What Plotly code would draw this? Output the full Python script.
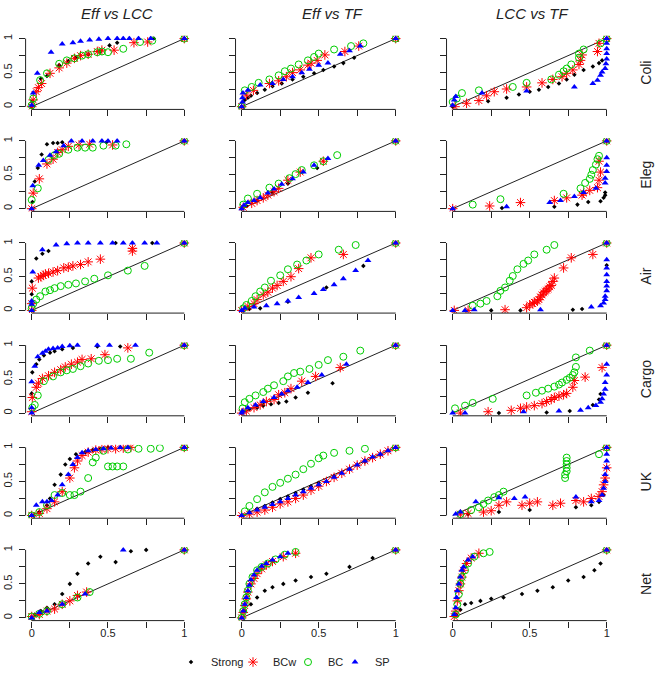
import plotly.graph_objects as go

COLS = ["Eff vs LCC", "Eff vs TF", "LCC vs TF"]
ROWS = ["Coli", "Eleg", "Air", "Cargo", "UK", "Net"]
SERIES = ["Strong", "BCw", "BC", "SP"]
DIAG = [0, 1]
TICKS = [0, 0.25, 0.5, 0.75, 1]
TICK_TEXT = ["0", "", "0.5", "", "1"]

# ---------------- data (x, y) per panel and series ----------------
coli_eff_lcc = {
    "Strong": ([0, 0.005, 0.06, 0.1, 0.18, 0.24, 0.29, 0.37, 0.45, 0.51, 0.56, 0.8, 1],
               [0, 0.08, 0.41, 0.45, 0.61, 0.67, 0.72, 0.77, 0.81, 0.9, 0.94, 1, 1]),
    "BCw": ([0, 0.01, 0.03, 0.044, 0.065, 0.12, 0.18, 0.23, 0.28, 0.32, 0.37, 0.43, 0.46, 0.54, 0.67, 0.76, 1],
            [0, 0.1, 0.22, 0.28, 0.34, 0.49, 0.57, 0.64, 0.71, 0.75, 0.77, 0.81, 0.83, 0.83, 0.94, 0.95, 1]),
    "BC": ([0, 0.01, 0.055, 0.1, 0.18, 0.23, 0.28, 0.33, 0.37, 0.43, 0.46, 0.5, 0.6, 0.71, 0.79, 1],
           [0.02, 0.12, 0.39, 0.49, 0.63, 0.68, 0.71, 0.75, 0.77, 0.8, 0.81, 0.8, 0.85, 0.95, 0.97, 1]),
    "SP": ([0, 0.01, 0.037, 0.127, 0.2, 0.27, 0.32, 0.38, 0.44, 0.5, 0.56, 0.6, 0.64, 0.7, 0.78, 1],
           [0.02, 0.2, 0.49, 0.8, 0.92, 0.94, 0.96, 0.98, 0.99, 1, 1, 1, 1, 1, 1, 1]),
}
coli_eff_tf = {
    "Strong": ([0, .02, .04, .06, .1, .15, .2, .26, .33, .4, .47, .53, .6, .66, .73, 1],
               [0, .1, .13, .16, .2, .25, .3, .34, .4, .44, .49, .54, .59, .64, .72, 1]),
    "BCw": ([0, .03, .076, .18, .24, .29, .33, .38, .43, .45, .49, .54, .67, .76, 1],
            [0, .17, .24, .34, .38, .44, .5, .54, .61, .64, .68, .76, .81, .89, 1]),
    "BC": ([0, .02, .065, .11, .18, .24, .28, .32, .37, .43, .47, .5, .6, .71, .79, 1],
           [0, .24, .29, .35, .4, .46, .52, .56, .62, .68, .73, .78, .84, .89, .93, 1]),
    "SP": ([0, .005, .005, .008, .04, .12, .2, .27, .33, .39, .44, .5, .56, .64, .7, .77, 1],
           [0, .07, .13, .2, .24, .32, .34, .4, .44, .5, .55, .61, .64, .77, .82, .89, 1]),
}
coli_lcc_tf = {
    "Strong": ([0, .23, .35, .43, .5, .56, .62, .69, .74, .79, .85, .91, .95, .97, 1],
               [0, .08, .13, .18, .22, .25, .29, .34, .4, .47, .54, .59, .64, .68, 1]),
    "BCw": ([.015, .09, .17, .22, .27, .35, .48, .58, .65, .71, .74, .78, .82, .83, .84, .94, .95, 1],
            [0, .05, .09, .16, .22, .26, .29, .35, .4, .44, .49, .54, .62, .68, .76, .81, .93, 1]),
    "BC": ([0, .026, .06, .17, .39, .48, .64, .69, .72, .74, .77, .82, .82, .85, .96, 1],
           [.07, .12, .2, .24, .29, .35, .4, .47, .52, .56, .62, .72, .78, .84, .93, 1]),
    "SP": ([0, .01, .02, .19, .48, .79, .91, .94, .96, .97, .99, .995, 1, 1, 1, 1, 1],
           [.02, .1, .15, .2, .23, .29, .34, .39, .46, .51, .56, .63, .7, .78, .85, .93, 1]),
}
eleg_eff_lcc = {
    "Strong": ([0, .005, .02, .04, .065, .1, .14, .17, .2, .49, 1],
               [0, .1, .4, .6, .8, .95, .97, .97, .98, .98, 1]),
    "BCw": ([0, .01, .05, .1, .14, .17, .2, .24, .31, .38, .53, 1],
            [0, .23, .44, .66, .73, .83, .87, .92, .94, .95, .94, 1]),
    "BC": ([0, .04, .11, .15, .18, .24, .3, .35, .4, .47, .55, .62, 1],
           [.13, .3, .72, .79, .81, .87, .9, .9, .9, .93, .93, .95, 1]),
    "SP": ([0, .007, .046, .076, .12, .16, .21, .26, .33, .4, .46, .5, .56, 1],
           [0, .34, .64, .71, .79, .84, .93, 1, 1, 1, 1, 1, 1, 1]),
}
eleg_eff_tf = {
    "Strong": ([0, .03, .1, .2, .3, .49, 1],
               [0, .04, .12, .24, .37, .6, 1]),
    "BCw": ([.01, .065, .1, .14, .17, .21, .24, .3, .38, .53, 1],
            [.02, .08, .12, .16, .2, .25, .3, .42, .54, .7, 1]),
    "BC": ([.01, .04, .1, .18, .24, .31, .35, .39, .47, .53, .62, 1],
           [.06, .15, .22, .31, .37, .45, .51, .57, .64, .7, .79, 1]),
    "SP": ([0, .015, .04, .08, .12, .17, .21, .26, .33, .4, .47, .56, 1],
           [0, .05, .09, .12, .16, .23, .29, .36, .44, .54, .64, .74, 1]),
}
eleg_lcc_tf = {
    "Strong": ([.32, .66, .81, .88, .96, .98, .99, .99, 1],
               [.01, .03, .06, .1, .11, .16, .2, .24, 1]),
    "BCw": ([0, .24, .44, .66, .74, .84, .85, .89, .94, .95, .96, .95, 1],
            [0, .04, .09, .12, .16, .2, .23, .27, .31, .42, .54, .7, 1]),
    "BC": ([.13, .31, .72, .83, .86, .89, .9, .91, .93, .94, .95, 1],
           [.06, .14, .22, .3, .38, .44, .5, .57, .65, .73, .78, 1]),
    "SP": ([0, .35, .63, .7, .79, .85, .93, .99, .99, 1, 1, 1, 1],
           [0, .03, .09, .12, .18, .24, .3, .38, .45, .55, .64, .75, 1]),
}
air_eff_lcc = {
    "Strong": ([0, 0, .03, .07, .11, .55, .79, 1],
               [.24, .43, .77, .84, .88, 1, 1, 1]),
    "BCw": ([0, 0, .004, .044, .06, .076, .09, .11, .14, .17, .21, .24, .27, .32, .37, .45, .66, .66, 1],
            [0, .1, .33, .48, .5, .52, .54, .55, .57, .59, .63, .64, .66, .68, .72, .76, .88, .92, 1]),
    "BC": ([0, .01, .03, .055, .09, .12, .15, .19, .24, .29, .35, .41, .5, .63, .74, 1],
           [.03, .1, .16, .21, .28, .3, .33, .36, .38, .4, .43, .47, .52, .59, .66, 1]),
    "SP": ([0, 0, 0, .007, .07, .16, .23, .3, .37, .45, .53, .6, .66, .74, .82, 1],
           [0, .09, .14, .57, .9, .97, .99, 1, 1, 1, 1, 1, 1, 1, 1, 1]),
}
air_eff_tf = {
    "Strong": ([0, .05, .12, .3, .55, .79, 1],
               [0, .02, .03, .13, .34, .66, 1]),
    "BCw": ([0, .04, .08, .1, .14, .17, .2, .23, .27, .32, .37, .45, .66, 1],
            [0, .06, .1, .16, .23, .27, .33, .37, .43, .5, .62, .78, .83, 1]),
    "BC": ([.01, .03, .065, .09, .12, .15, .19, .25, .3, .36, .42, .5, .63, .74, 1],
           [.03, .08, .14, .21, .28, .34, .44, .52, .61, .68, .74, .83, .9, .97, 1]),
    "SP": ([0, .02, .08, .16, .23, .3, .37, .47, .53, .6, .66, .74, .82, 1],
           [0, .03, .05, .07, .1, .14, .19, .25, .31, .38, .47, .59, .74, 1]),
}
air_lcc_tf = {
    "Strong": ([.25, .44, .78, .84, 1, 1],
               [0, 0, .01, .02, .67, 1]),
    "BCw": ([.01, .1, .34, .48, .5, .52, .53, .55, .56, .57, .58, .59, .6, .61, .62, .63, .64, .65, .66, .72, .77, .91, 1],
            [0, 0, .01, .04, .08, .1, .12, .14, .16, .2, .23, .26, .28, .3, .32, .35, .37, .43, .48, .63, .78, .83, 1]),
    "BC": ([.13, .18, .22, .29, .31, .34, .37, .39, .42, .46, .49, .53, .61, .66, 1],
           [.07, .1, .14, .21, .29, .34, .44, .51, .61, .69, .74, .83, .9, .97, 1]),
    "SP": ([0, .08, .14, .57, .9, .96, .98, .99, .99, 1, 1, 1, 1, 1, 1, 1],
           [0, 0, .01, .01, .05, .07, .11, .16, .21, .29, .36, .43, .53, .63, .75, 1]),
}
cargo_eff_lcc = {
    "Strong": ([0, .004, .03, .05, .08, .12, .15, .2, .27, .43, .58, 1],
               [.29, .6, .72, .79, .85, .89, .91, .94, .96, .98, .98, 1]),
    "BCw": ([0, .004, .03, .044, .07, .11, .15, .19, .22, .26, .3, .33, .39, .48, .63, 1],
            [.02, .23, .38, .44, .51, .55, .6, .64, .68, .72, .75, .79, .8, .86, .96, 1]),
    "BC": ([.004, .02, .04, .08, .14, .19, .23, .27, .32, .37, .44, .5, .56, .65, .77, 1],
           [.08, .12, .26, .47, .54, .6, .63, .65, .69, .73, .77, .78, .8, .8, .89, 1]),
    "SP": ([0, 0, 0, .02, .04, .07, .09, .11, .14, .17, .2, .25, .3, .43, .51, .68, 1],
           [0, .08, .46, .69, .83, .88, .91, .94, .95, .96, .98, .99, 1, 1, 1, 1, 1]),
}
cargo_eff_tf = {
    "Strong": ([0, .05, .1, .14, .19, .24, .29, .35, .43, .59, 1],
               [0, .06, .08, .11, .13, .15, .17, .23, .3, .44, 1]),
    "BCw": ([0, .03, .08, .12, .16, .21, .24, .28, .32, .39, .48, .64, 1],
            [0, .03, .08, .12, .17, .2, .27, .3, .36, .47, .54, .67, 1]),
    "BC": ([.006, .02, .05, .09, .14, .17, .21, .27, .3, .34, .38, .44, .5, .56, .66, .77, 1],
           [.07, .16, .21, .26, .31, .36, .41, .47, .54, .59, .61, .65, .71, .78, .83, .92, 1]),
    "SP": ([0, .006, .04, .09, .14, .21, .26, .3, .36, .43, .52, .68, 1],
           [0, .03, .08, .12, .17, .23, .28, .33, .38, .45, .56, .72, 1]),
}
cargo_lcc_tf = {
    "Strong": ([.3, .61, .76, .91, .95, .96, 1],
               [0, .01, .03, .12, .2, .28, 1]),
    "BCw": ([.05, .23, .38, .44, .48, .53, .58, .61, .64, .66, .69, .72, .74, .78, .79, .86, .97, 1],
            [0, .02, .04, .07, .09, .11, .14, .17, .2, .23, .25, .27, .29, .38, .48, .53, .67, 1]),
    "BC": ([.015, .08, .13, .26, .48, .54, .58, .62, .66, .69, .71, .74, .76, .78, .79, .8, .8, .89, 1],
           [.07, .11, .15, .21, .26, .3, .33, .36, .39, .42, .45, .49, .52, .56, .6, .68, .82, .92, 1]),
    "SP": ([0, .08, .46, .69, .83, .88, .93, .96, .97, .98, .99, .99, 1, 1, 1],
           [0, 0, .02, .03, .04, .08, .11, .16, .21, .28, .35, .45, .56, .72, 1]),
}
uk_eff_lcc = {
    "Strong": ([0, .05, .1, .12, .15, .19, .22, .25, .29, .35, .4, .45, .5, 1],
               [0, .05, .15, .25, .45, .6, .75, .83, .9, .93, .96, .98, 1, 1]),
    "BCw": ([0, .05, .1, .15, .2, .25, .28, .3, .33, .37, .42, .46, .5, .55, .6, .65, 1],
            [0, .03, .1, .2, .35, .55, .7, .8, .88, .93, .96, .97, .98, .98, .99, 1, 1]),
    "BC": ([0, .05, .1, .15, .2, .25, .28, .32, .37, .4, .42, .47, .5, .53, .56, .6, .63, .7, .78, .84, 1],
           [0, .05, .15, .3, .33, .3, .3, .35, .55, .78, .85, .95, .72, .72, .72, .72, .97, .98, .98, .99, 1]),
    "SP": ([0, .03, .07, .1, .13, .17, .2, .24, .27, .3, .33, .37, .42, .47, .52, .58, .63, 1],
           [0, .15, .2, .2, .22, .3, .45, .6, .75, .85, .92, .95, .97, .98, .99, 1, 1, 1]),
}
uk_eff_tf = {
    "Strong": ([0, .05, .1, .15, .2, .25, .3, .35, .4, .45, .5, .6, .7, .8, .9, 1],
               [0, .05, .1, .14, .19, .24, .28, .33, .38, .43, .48, .58, .68, .79, .89, 1]),
    "BCw": ([0, .05, .1, .15, .2, .25, .3, .35, .4, .45, .5, .55, .6, .65, .7, .75, .8, .85, .9, .95, 1],
            [0, .02, .05, .08, .12, .17, .2, .25, .3, .37, .43, .5, .56, .62, .68, .74, .8, .85, .9, .95, 1]),
    "BC": ([.02, .05, .1, .15, .2, .25, .3, .35, .4, .45, .5, .53, .6, .7, .8, 1],
           [.06, .14, .24, .34, .42, .48, .54, .6, .68, .76, .84, .88, .92, .95, .98, 1]),
    "SP": ([0, .05, .1, .15, .2, .25, .3, .35, .4, .45, .5, .55, .6, .65, .7, .75, .8, .85, .9, .95, 1],
           [0, .04, .08, .12, .16, .2, .25, .3, .35, .4, .45, .5, .56, .62, .68, .74, .8, .86, .9, .95, 1]),
}
uk_lcc_tf = {
    "Strong": ([.1, .3, .5, .8, .9, .95, .98, .99, 1],
               [.02, .05, .08, .12, .15, .2, .3, .5, 1]),
    "BCw": ([.05, .1, .2, .25, .3, .35, .45, .5, .55, .65, .7, .8, .85, .9, .95, .97, .98, .99, 1, 1],
            [.02, .03, .05, .07, .15, .2, .15, .18, .2, .15, .18, .22, .2, .25, .28, .35, .45, .55, .7, 1]),
    "BC": ([.05, .12, .17, .2, .23, .27, .3, .33, .73, .73, .74, .74, .74, .74, .74, .95, 1],
           [.02, .08, .12, .17, .22, .27, .3, .35, .55, .6, .65, .7, .75, .8, .85, .9, 1]),
    "SP": ([.02, .05, .15, .3, .4, .47, .8, .9, .95, .97, .98, .99, .99, 1, 1, 1, 1],
           [.02, .05, .2, .26, .25, .27, .27, .2, .22, .3, .4, .5, .6, .7, .8, .9, 1]),
}
net_eff_lcc = {
    "Strong": ([.02, .06, .1, .15, .2, .25, .3, .37, .45, .55, .65, .75, 1],
               [.05, .1, .15, .2, .35, .5, .65, .8, .9, .82, .98, 1, 1]),
    "BCw": ([0, .05, .1, .15, .2, .25, .3, .36, 1],
            [.02, .05, .1, .13, .2, .25, .33, .38, 1]),
    "BC": ([0, .05, .1, .2, .3, .38, 1],
           [.02, .06, .1, .2, .3, .38, 1]),
    "SP": ([0, .05, .1, .2, .35, .6, 1],
           [0, .08, .1, .2, .35, 1, 1]),
}
net_eff_tf = {
    "Strong": ([.02, .06, .1, .15, .2, .27, .35, .45, .55, .7, .85, 1],
               [.1, .2, .3, .4, .45, .5, .55, .6, .65, .75, .88, 1]),
    "BCw": ([0, .01, .02, .03, .04, .06, .08, .1, .13, .16, .2, .27, .35, 1],
            [0, .08, .18, .28, .38, .5, .58, .65, .72, .78, .83, .9, .95, 1]),
    "BC": ([0, .01, .02, .03, .04, .05, .07, .1, .13, .17, .22, .28, .35, 1],
           [0, .1, .2, .3, .4, .5, .6, .7, .75, .8, .86, .93, .97, 1]),
    "SP": ([0, .01, .02, .03, .04, .05, .06, .08, .1, .13, .16, .2, .25, .3, 1],
           [0, .1, .2, .3, .4, .48, .56, .63, .7, .76, .8, .85, .9, .95, 1]),
}
net_lcc_tf = {
    "Strong": ([.02, .05, .08, .12, .18, .25, .33, .45, .55, .65, .75, .85, .92, .96, 1],
               [.05, .12, .2, .22, .25, .28, .3, .35, .4, .45, .55, .6, .7, .8, 1]),
    "BCw": ([.01, .02, .03, .04, .05, .06, .07, .09, .12, .17, 1],
            [.02, .1, .25, .4, .5, .6, .7, .8, .88, .95, 1]),
    "BC": ([.02, .03, .04, .05, .06, .08, .1, .14, .2, .24, 1],
           [.05, .2, .35, .5, .6, .7, .8, .9, .95, .97, 1]),
    "SP": ([.01, .02, .025, .03, .04, .05, .06, .07, .1, .13, 1],
           [.05, .15, .3, .4, .5, .6, .7, .75, .85, .9, 1]),
}

PANELS = [
    [coli_eff_lcc, coli_eff_tf, coli_lcc_tf],
    [eleg_eff_lcc, eleg_eff_tf, eleg_lcc_tf],
    [air_eff_lcc, air_eff_tf, air_lcc_tf],
    [cargo_eff_lcc, cargo_eff_tf, cargo_lcc_tf],
    [uk_eff_lcc, uk_eff_tf, uk_lcc_tf],
    [net_eff_lcc, net_eff_tf, net_lcc_tf],
]

# ---------------- styling / layout ----------------
W, H = 658, 680
FONT = "Liberation Sans, Arial, sans-serif"
COL_PX = [(31.7, 184.3), (241.7, 395.7), (452.7, 606.7)]
ROW_PX = [(36.7, 105.0), (139.3, 207.3), (241.7, 309.3), (344.2, 412.3), (446.7, 515.0), (549.5, 617.7)]
PAD = 0.04
STYLE = {
    "Strong": dict(symbol="diamond", size=3.5, color="black", line=dict(width=0)),
    "BCw": dict(symbol="asterisk-open", size=8, color="red", line=dict(color="red", width=1)),
    "BC": dict(symbol="circle-open", size=7, color="#00CD00", line=dict(color="#00CD00", width=1)),
    "SP": dict(symbol="triangle-up", size=6, color="blue", line=dict(width=0)),
}
LEGEND_W = {"Strong": 17, "BCw": 10, "BC": 2, "SP": 15}

fig = go.Figure()
shapes = []
layout = {}
for r, row in enumerate(PANELS):
    for c, panel in enumerate(row):
        idx = r * 3 + c + 1
        sfx = "" if idx == 1 else str(idx)
        xa, ya = "x" + sfx, "y" + sfx
        fig.add_trace(go.Scatter(x=DIAG, y=DIAG, mode="lines", line=dict(color="#222", width=1),
                                 showlegend=False, hoverinfo="skip", xaxis=xa, yaxis=ya))
        for s in SERIES:
            xs, ys = panel[s]
            fig.add_trace(go.Scatter(x=xs, y=ys, mode="markers", name=s, marker=STYLE[s],
                                     legendgroup=s, showlegend=(idx == 1), legendwidth=LEGEND_W[s],
                                     xaxis=xa, yaxis=ya))
        x0, x1 = COL_PX[c]
        w = x1 - x0
        y1p, y0p = ROW_PX[r]
        h = y0p - y1p
        layout["xaxis" + sfx] = dict(
            domain=[(x0 - PAD * w) / W, (x1 + PAD * w) / W], range=[-PAD, 1 + PAD],
            anchor=ya, tickvals=TICKS, ticktext=TICK_TEXT, showticklabels=(r == 5),
            ticks="outside", ticklen=6, tickcolor="#222", tickwidth=1, ticklabelstandoff=-4,
            showgrid=False, zeroline=False, showline=False,
            tickfont=dict(size=11, color="#222", family=FONT), fixedrange=True)
        layout["yaxis" + sfx] = dict(
            domain=[1 - (y0p + PAD * h) / H, 1 - (y1p - PAD * h) / H], range=[-PAD, 1 + PAD],
            anchor=xa, tickvals=TICKS, ticktext=TICK_TEXT, showticklabels=(c == 0),
            tickangle=-90, ticks="outside", ticklen=6, tickcolor="#222", tickwidth=1, ticklabelstandoff=2,
            showgrid=False, zeroline=False, showline=False,
            tickfont=dict(size=11, color="#222", family=FONT), fixedrange=True)
        shapes.append(dict(type="line", xref=xa, yref=ya + " domain", x0=0, x1=1, y0=0, y1=0,
                           line=dict(color="#222", width=1)))
        shapes.append(dict(type="line", xref=xa + " domain", yref=ya, x0=0, x1=0, y0=0, y1=1,
                           line=dict(color="#222", width=1)))

annotations = []
for c, title in enumerate(COLS):
    cx = [117, 332, 532][c]
    annotations.append(dict(text="<i>" + title + "</i>", x=cx / W, y=1 - 12 / H, xref="paper", yref="paper",
                            showarrow=False, xanchor="center", yanchor="middle",
                            font=dict(size=15, color="#222", family=FONT)))
for r, name in enumerate(ROWS):
    cy = (ROW_PX[r][0] + ROW_PX[r][1]) / 2
    annotations.append(dict(text=name, x=646 / W, y=1 - cy / H, xref="paper", yref="paper",
                            showarrow=False, textangle=-90, xanchor="center", yanchor="middle",
                            font=dict(size=14, color="#222", family=FONT)))

fig.update_layout(
    width=W, height=H, margin=dict(l=0, r=0, t=0, b=0),
    paper_bgcolor="white", plot_bgcolor="white",
    font=dict(family=FONT, color="#222"),
    shapes=shapes, annotations=annotations,
    legend=dict(orientation="h", x=283 / W, xanchor="center", y=1 - 662 / H, yanchor="middle",
                font=dict(size=11, family=FONT, color="#222"), itemwidth=30, bgcolor="rgba(0,0,0,0)",
                tracegroupgap=0),
    **layout,
)
fig.write_html("out.html", config={"displayModeBar": False},
               post_script="document.body.style.margin='0';document.body.style.overflow='hidden';")
